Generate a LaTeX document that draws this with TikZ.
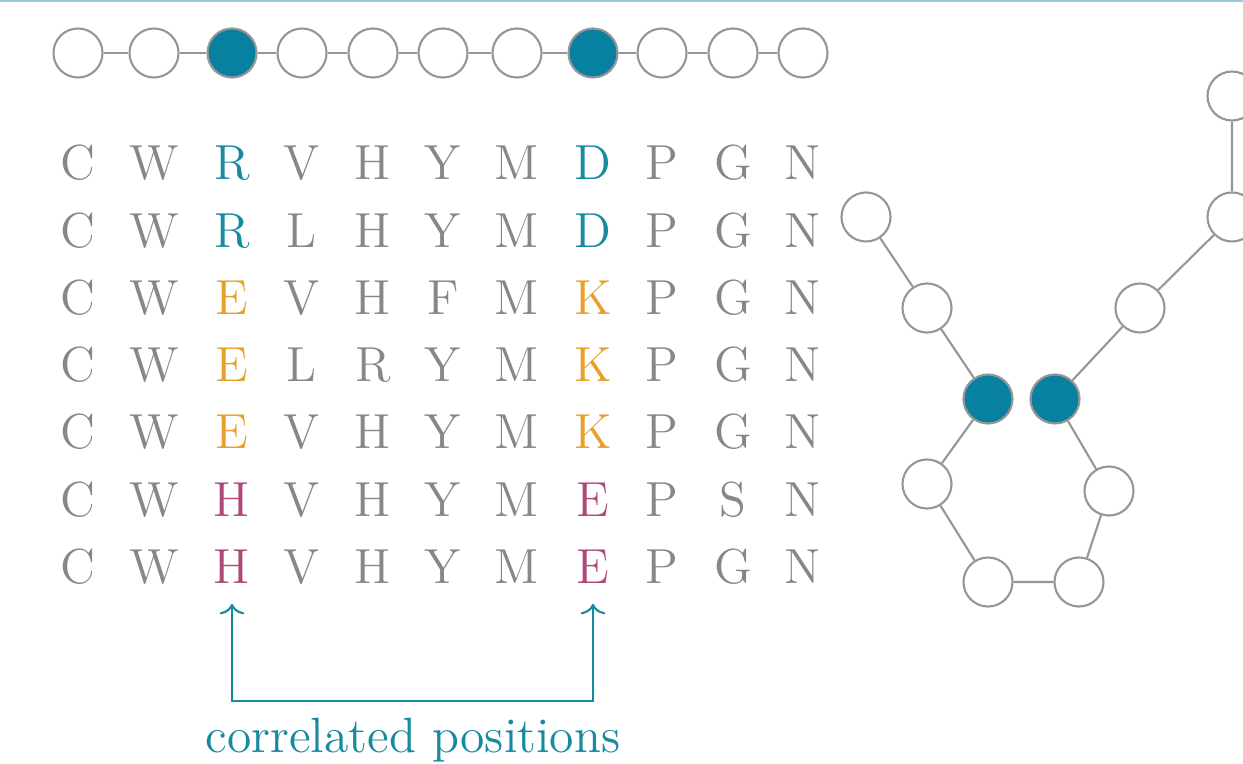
\documentclass[tikz,border=0pt]{standalone}
\usepackage{xcolor}
\usepackage{tikz}
\usetikzlibrary{arrows.meta, positioning}

\definecolor{resgray}{RGB}{135,135,135}
\definecolor{sitegray}{RGB}{150,150,150}
\definecolor{corrteal}{RGB}{22,138,158}
\definecolor{sitefill}{RGB}{8,128,160}
\definecolor{corrorange}{RGB}{232,160,42}
\definecolor{corrmagenta}{RGB}{176,72,122}
\definecolor{slideline}{RGB}{150,205,216}

\begin{document}
\begin{tikzpicture}[x=0.01cm, y=-0.01cm,
    site/.style={circle, draw=sitegray, line width=0.6pt, fill=white, minimum size=0.49cm, inner sep=0pt},
    hot/.style={site, fill=sitefill},
    bond/.style={draw=sitegray, line width=0.6pt},
    res/.style={inner sep=0pt, font=\fontsize{14}{16}\selectfont, text=resgray},
    tres/.style={res, text=corrteal},
    ores/.style={res, text=corrorange},
    mres/.style={res, text=corrmagenta},
    corrline/.style={draw=corrteal, line width=0.6pt, {Computer Modern Rightarrow[width=7pt,length=3pt]}-{Computer Modern Rightarrow[width=7pt,length=3pt]}}]
                    \useasboundingbox (0,0) rectangle (1243,764);
                    \clip (0,0) rectangle (1243,764);
                    % Slide rule
                    \draw[slideline, line width=0.6pt] (0,0.8) -- (1243,0.8);
                    % Chain
                    \node[site] (c1) at (78,53) {};
                    \node[site] (c2) at (154,53) {};
                    \node[hot] (c3) at (232,53) {};
                    \node[site] (c4) at (302,53) {};
                    \node[site] (c5) at (373,53) {};
                    \node[site] (c6) at (443,53) {};
                    \node[site] (c7) at (517,53) {};
                    \node[hot] (c8) at (593,53) {};
                    \node[site] (c9) at (662,53) {};
                    \node[site] (c10) at (733,53) {};
                    \node[site] (c11) at (803,53) {};
                    \draw[bond] (c1) -- (c2) (c2) -- (c3) (c3) -- (c4) (c4) -- (c5) (c5) -- (c6)
                        (c6) -- (c7) (c7) -- (c8) (c8) -- (c9) (c9) -- (c10) (c10) -- (c11);
                    % Alignment
                    \node[res] (r1c1) at (78,163) {C};
                    \node[res] (r1c2) at (154,163) {W};
                    \node[tres] (r1c3) at (232,163) {R};
                    \node[res] (r1c4) at (302,163) {V};
                    \node[res] (r1c5) at (373,163) {H};
                    \node[res] (r1c6) at (443,163) {Y};
                    \node[res] (r1c7) at (517,163) {M};
                    \node[tres] (r1c8) at (593,163) {D};
                    \node[res] (r1c9) at (662,163) {P};
                    \node[res] (r1c10) at (733,163) {G};
                    \node[res] (r1c11) at (803,163) {N};
                    \node[res] (r2c1) at (78,231) {C};
                    \node[res] (r2c2) at (154,231) {W};
                    \node[tres] (r2c3) at (232,231) {R};
                    \node[res] (r2c4) at (302,231) {L};
                    \node[res] (r2c5) at (373,231) {H};
                    \node[res] (r2c6) at (443,231) {Y};
                    \node[res] (r2c7) at (517,231) {M};
                    \node[tres] (r2c8) at (593,231) {D};
                    \node[res] (r2c9) at (662,231) {P};
                    \node[res] (r2c10) at (733,231) {G};
                    \node[res] (r2c11) at (803,231) {N};
                    \node[res] (r3c1) at (78,298) {C};
                    \node[res] (r3c2) at (154,298) {W};
                    \node[ores] (r3c3) at (232,298) {E};
                    \node[res] (r3c4) at (302,298) {V};
                    \node[res] (r3c5) at (373,298) {H};
                    \node[res] (r3c6) at (443,298) {F};
                    \node[res] (r3c7) at (517,298) {M};
                    \node[ores] (r3c8) at (593,298) {K};
                    \node[res] (r3c9) at (662,298) {P};
                    \node[res] (r3c10) at (733,298) {G};
                    \node[res] (r3c11) at (803,298) {N};
                    \node[res] (r4c1) at (78,365) {C};
                    \node[res] (r4c2) at (154,365) {W};
                    \node[ores] (r4c3) at (232,365) {E};
                    \node[res] (r4c4) at (302,365) {L};
                    \node[res] (r4c5) at (373,365) {R};
                    \node[res] (r4c6) at (443,365) {Y};
                    \node[res] (r4c7) at (517,365) {M};
                    \node[ores] (r4c8) at (593,365) {K};
                    \node[res] (r4c9) at (662,365) {P};
                    \node[res] (r4c10) at (733,365) {G};
                    \node[res] (r4c11) at (803,365) {N};
                    \node[res] (r5c1) at (78,432) {C};
                    \node[res] (r5c2) at (154,432) {W};
                    \node[ores] (r5c3) at (232,432) {E};
                    \node[res] (r5c4) at (302,432) {V};
                    \node[res] (r5c5) at (373,432) {H};
                    \node[res] (r5c6) at (443,432) {Y};
                    \node[res] (r5c7) at (517,432) {M};
                    \node[ores] (r5c8) at (593,432) {K};
                    \node[res] (r5c9) at (662,432) {P};
                    \node[res] (r5c10) at (733,432) {G};
                    \node[res] (r5c11) at (803,432) {N};
                    \node[res] (r6c1) at (78,500) {C};
                    \node[res] (r6c2) at (154,500) {W};
                    \node[mres] (r6c3) at (232,500) {H};
                    \node[res] (r6c4) at (302,500) {V};
                    \node[res] (r6c5) at (373,500) {H};
                    \node[res] (r6c6) at (443,500) {Y};
                    \node[res] (r6c7) at (517,500) {M};
                    \node[mres] (r6c8) at (593,500) {E};
                    \node[res] (r6c9) at (662,500) {P};
                    \node[res] (r6c10) at (733,500) {S};
                    \node[res] (r6c11) at (803,500) {N};
                    \node[res] (r7c1) at (78,567) {C};
                    \node[res] (r7c2) at (154,567) {W};
                    \node[mres] (r7c3) at (232,567) {H};
                    \node[res] (r7c4) at (302,567) {V};
                    \node[res] (r7c5) at (373,567) {H};
                    \node[res] (r7c6) at (443,567) {Y};
                    \node[res] (r7c7) at (517,567) {M};
                    \node[mres] (r7c8) at (593,567) {E};
                    \node[res] (r7c9) at (662,567) {P};
                    \node[res] (r7c10) at (733,567) {G};
                    \node[res] (r7c11) at (803,567) {N};
                    % Correlated pair
                    \draw[corrline] ([yshift=-5.5pt]r7c3.south) -- ++(0,-27.6pt) -| ([yshift=-5.5pt]r7c8.south);
                    \node[anchor=base, inner sep=0pt, text=corrteal, font=\fontsize{14.1}{16}\selectfont] (corrlabel) at (413,752) {correlated positions};
                    % Folded structure
                    \node[site] (f1) at (1232,96) {};
                    \node[site] (f2) at (1232,217) {};
                    \node[site] (f3) at (1140,308) {};
                    \node[hot] (f4) at (1055,399) {};
                    \node[site] (f5) at (1109,491) {};
                    \node[site] (f6) at (1079,582) {};
                    \node[site] (f7) at (988,582) {};
                    \node[site] (f8) at (927,484) {};
                    \node[hot] (f9) at (988,399) {};
                    \node[site] (f10) at (927,308) {};
                    \node[site] (f11) at (866,217) {};
                    \draw[bond] (f1) -- (f2) (f2) -- (f3) (f3) -- (f4) (f4) -- (f5) (f5) -- (f6)
                        (f6) -- (f7) (f7) -- (f8) (f8) -- (f9) (f9) -- (f10) (f10) -- (f11);
                \end{tikzpicture}
\end{document}
